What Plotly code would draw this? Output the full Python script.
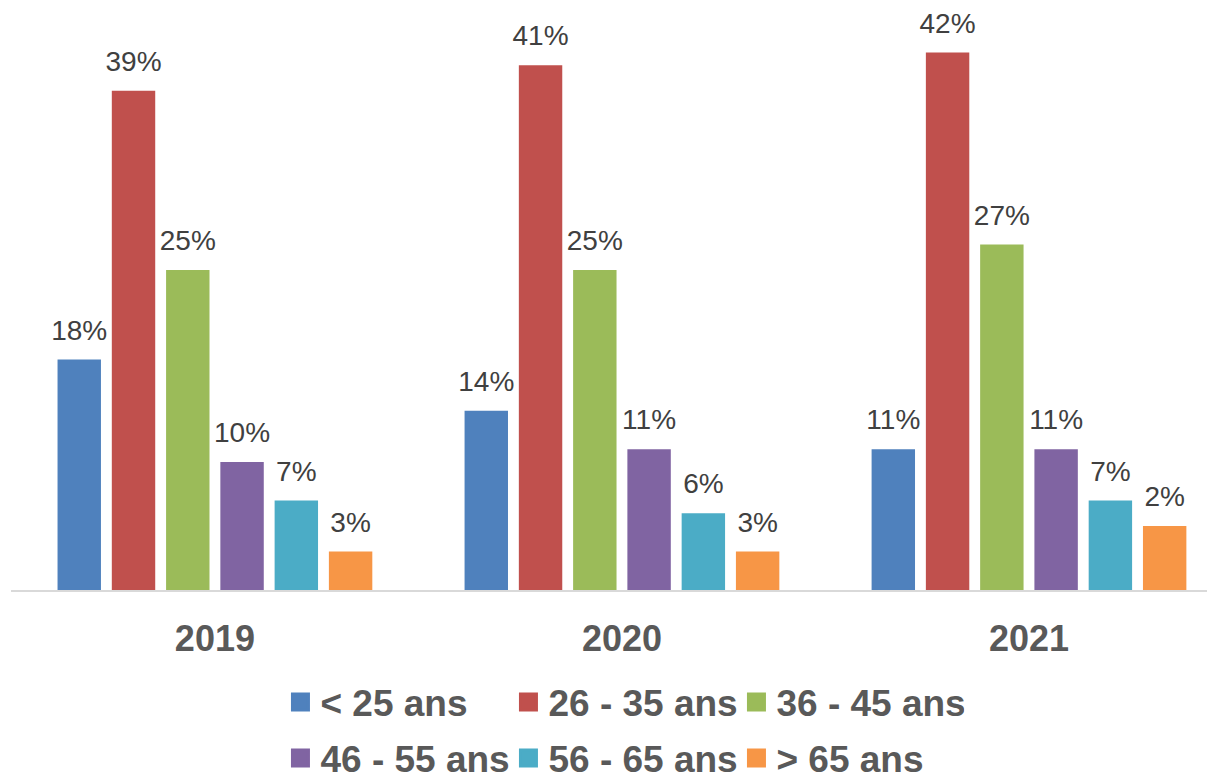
import plotly.graph_objects as go

years = ["2019", "2020", "2021"]
age_groups = ["< 25 ans", "26 - 35 ans", "36 - 45 ans", "46 - 55 ans", "56 - 65 ans", "> 65 ans"]
colors = ["#4F81BD", "#C0504D", "#9BBB59", "#8064A2", "#4BACC6", "#F79646"]

# bar heights (%) as drawn, one list per age group (2019, 2020, 2021)
v_lt25 = [18, 14, 11]
v_26_35 = [39, 41, 42]
v_36_45 = [25, 25, 27]
v_46_55 = [10, 11, 11]
v_56_65 = [7, 6, 7]
v_gt65 = [3, 3, 5]

# printed data labels
t_lt25 = ["18%", "14%", "11%"]
t_26_35 = ["39%", "41%", "42%"]
t_36_45 = ["25%", "25%", "27%"]
t_46_55 = ["10%", "11%", "11%"]
t_56_65 = ["7%", "6%", "7%"]
t_gt65 = ["3%", "3%", "2%"]

values = [v_lt25, v_26_35, v_36_45, v_46_55, v_56_65, v_gt65]
texts = [t_lt25, t_26_35, t_36_45, t_46_55, t_56_65, t_gt65]

FONT = "Liberation Sans, Arial, sans-serif"
fig = go.Figure()

for name, vals, col in zip(age_groups, values, colors):
    fig.add_trace(go.Bar(
        x=years, y=vals, name=name, marker=dict(color=col, line=dict(width=0)),
        showlegend=False, hoverinfo="x+y+name",
    ))

for name, vals, txt in zip(age_groups, values, texts):
    fig.add_trace(go.Scatter(
        x=years, y=vals, text=txt, mode="markers+text", orientation="v",
        marker=dict(size=19, color="rgba(0,0,0,0)"),
        textposition="top center",
        textfont=dict(family=FONT, size=28, color="#404040"),
        showlegend=False, hoverinfo="skip", cliponaxis=False,
    ))

# legend entries
for i, (name, col) in enumerate(zip(age_groups, colors)):
    fig.add_trace(go.Scatter(
        x=[None], y=[None], name=name, mode="markers",
        marker=dict(symbol="square", size=16, color=col, line=dict(color=col, width=3)),
        xaxis="x2", yaxis="y2", legend="legend" if i < 3 else "legend2",
        hoverinfo="skip",
    ))

leg_common = dict(
    orientation="h", xanchor="left", yanchor="middle",
    font=dict(family=FONT, size=37, color="#595959", weight="bold"),
    entrywidth=183, entrywidthmode="pixels", bgcolor="rgba(0,0,0,0)",
    borderwidth=0, itemclick=False, itemdoubleclick=False,
)

fig.update_layout(
    width=1207, height=766,
    margin=dict(l=3, r=0, t=0, b=183.5, autoexpand=False),
    paper_bgcolor="white", plot_bgcolor="white",
    barmode="group", bargap=0.2, bargroupgap=0.2,
    scattermode="group", scattergap=0.2,
    font=dict(family=FONT),
    xaxis=dict(
        type="category", range=[-0.501, 2.457], showgrid=False,
        showline=True, linecolor="#D9D9D9", linewidth=2,
        ticks="", ticklabelstandoff=16,
        tickfont=dict(family=FONT, size=36, color="#595959", weight="bold"),
    ),
    yaxis=dict(range=[0, 45.47], visible=False, showgrid=False),
    xaxis2=dict(overlaying="x", visible=False),
    yaxis2=dict(overlaying="y", visible=False),
    legend=dict(x=0.2238, y=-0.1931, **leg_common),
    legend2=dict(x=0.2238, y=-0.2893, **leg_common),
    showlegend=True,
)

fig.write_html("out.html")
